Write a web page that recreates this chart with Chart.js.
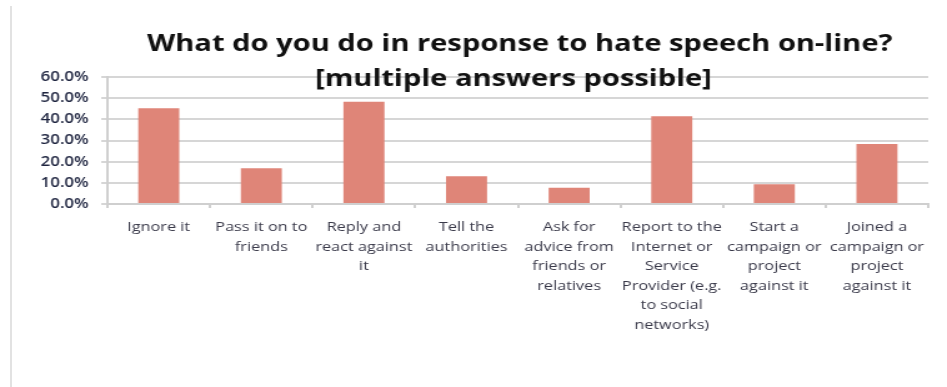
<!DOCTYPE html>
<html>
<head>
<meta charset="utf-8">
<script src="https://cdn.jsdelivr.net/npm/chart.js@4/dist/chart.umd.min.js"></script>
<style>
  html, body { margin: 0; padding: 0; background: #fff; overflow: hidden; }
  #wrap { position: relative; width: 947px; height: 387px; }
  #edge { position: absolute; left: 10px; top: 6px; width: 2px; height: 381px; background: #e2e2e2; }
  /* the chart is drawn narrow and widened, giving the broad lettering */
  #stretch { position: absolute; left: 0; top: 0; width: 758px; height: 387px;
             transform: scaleX(1.2493); transform-origin: 0 0; }
</style>
</head>
<body>
<div id="wrap">
  <div id="edge"></div>
  <div id="stretch"><canvas id="chart" width="758" height="387"></canvas></div>
</div>
<script>
// survey answers, share of respondents (%)
const categories = [
    ['Ignore it'],
    ['Pass it on to', 'friends'],
    ['Reply and', 'react against', 'it'],
    ['Tell the', 'authorities'],
    ['Ask for', 'advice from', 'friends or', 'relatives'],
    ['Report to the', 'Internet or', 'Service', 'Provider (e.g.', 'to social', 'networks)'],
    ['Start a', 'campaign or', 'project', 'against it'],
    ['Joined a', 'campaign or', 'project', 'against it']
];
const shares = [45.2, 16.9, 48.3, 13.1, 7.7, 41.4, 9.3, 28.3];
const yTicks = [0, 10, 20, 30, 40, 50, 60];
const titleLines = ['What do you do in response to hate speech on-line?', '[multiple answers possible]'];

// title sits over the top of the plot, so draw it after everything else
const titleOverlay = {
    id: 'titleOverlay',
    afterDraw(chart) {
        const ctx = chart.ctx;
        const cx = (chart.chartArea.left + chart.chartArea.right) / 2;
        ctx.save();
        ctx.fillStyle = '#111';
        ctx.font = 'bold 23.3px "Open Sans"';
        ctx.textAlign = 'center';
        ctx.textBaseline = 'alphabetic';
        ctx.fillText(titleLines[0], cx + 1.5, 51);
        ctx.fillText(titleLines[1], cx - 3.5, 86);
        ctx.restore();
    }
};

new Chart(document.getElementById('chart'), {
    type: 'bar',
    data: {
        labels: categories,
        datasets: [{
            data: shares,
            backgroundColor: '#DF8578',
            barPercentage: 0.4,
            categoryPercentage: 1.0
        }]
    },
    options: {
        responsive: false,
        animation: false,
        layout: { padding: { left: 0, right: 15, top: 77, bottom: 0 } },
        plugins: {
            legend: { display: false },
            tooltip: { enabled: false }
        },
        scales: {
            x: {
                grid: {
                    offset: true,
                    drawOnChartArea: false,
                    tickLength: 4,
                    color: '#cfcfcf',
                    lineWidth: 2
                },
                border: { color: '#cfcfcf', width: 2 },
                ticks: {
                    maxRotation: 0,
                    autoSkip: false,
                    padding: 10,
                    color: '#3a3a4a',
                    font: { family: '"Open Sans"', size: 13, lineHeight: 1.5 }
                },
                afterFit(scale) { scale.height = 183; }
            },
            y: {
                min: 0,
                max: 60,
                afterBuildTicks(scale) { scale.ticks = yTicks.map(v => ({ value: v })); },
                grid: {
                    color: '#d6d6d6',
                    lineWidth: 2,
                    tickLength: 5
                },
                border: { color: '#cfcfcf', width: 2 },
                ticks: {
                    padding: 10,
                    color: '#1f2540',
                    font: { family: '"Open Sans"', size: 13.5, weight: '600' },
                    callback: v => v.toFixed(1) + '%'
                },
                afterFit(scale) { scale.width = 86; }
            }
        }
    },
    plugins: [titleOverlay]
});
</script>
</body>
</html>
